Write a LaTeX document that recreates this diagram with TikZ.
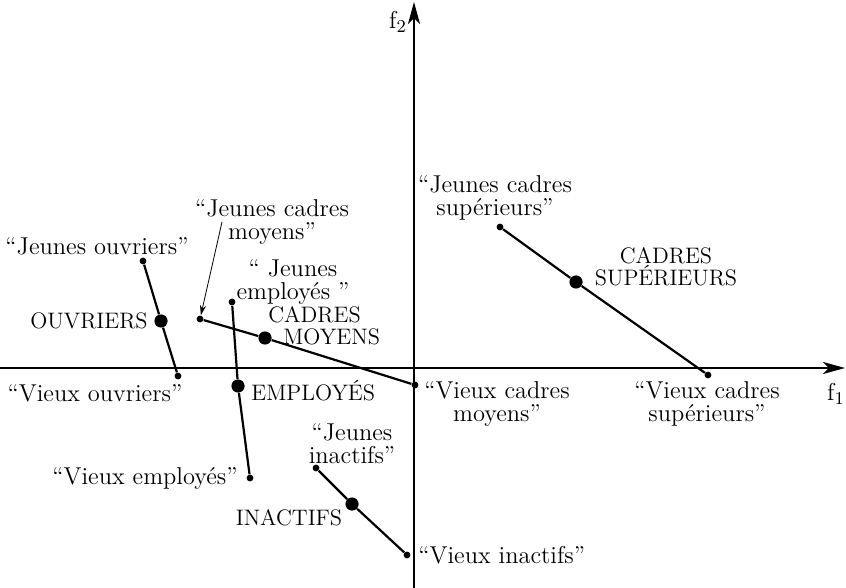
\documentclass[tikz,border=0pt]{standalone}
\usepackage{tikz}
\usetikzlibrary{arrows.meta,positioning}
\begin{document}
\begin{tikzpicture}[x=0.5pt,y=-0.5pt,
    small/.style={circle, fill=black, inner sep=0pt, minimum size=3.4pt},
    big/.style={circle, fill=black, inner sep=0pt, minimum size=6.6pt},
    lab/.style={align=center, inner sep=0pt, font=\fontsize{12.2}{11.5}\selectfont},
    grp/.style={align=center, inner sep=0pt, font=\fontsize{11.2}{11}\selectfont},
    seg/.style={line width=1.1pt},
    axe/.style={line width=0.8pt, -{Stealth[length=11pt,width=6pt,inset=3pt]}}
]
    \useasboundingbox (0,0) rectangle (846,588);

    % axes
    \coordinate (xs) at (0,368);
    \coordinate (xe) at (845,368);
    \coordinate (ys) at (414,588);
    \coordinate (ye) at (414,2);
    \draw[axe] (xs) -- (xe);
    \draw[axe] (ys) -- (ye);
    \node[lab] (f2) at (398,22) {f$_2$};
    \node[lab] (f1) at (836,394) {f$_1$};

    % ouvriers
    \node[small] (jo) at (143,261) {};
    \node[big]   (mo) at (161,321) {};
    \node[small] (vo) at (178,376) {};
    \draw[seg] (jo) -- (mo) -- (vo);
    \node[lab] at (97,246) {``Jeunes ouvriers''};
    \node[grp, anchor=east] at (148,321) {OUVRIERS};
    \node[lab] at (95,393) {``Vieux ouvriers''};

    % cadres moyens
    \node[small] (jcm) at (200,319) {};
    \node[big]   (mcm) at (265,338) {};
    \node[small] (vcm) at (415,385) {};
    \draw[seg] (jcm) -- (mcm) -- (vcm);
    \node[lab] (ljcm) at (272,222) {``Jeunes cadres\\moyens''};
    \draw[-{Stealth[length=5pt,width=3pt]}, thin] (222,222) -- (jcm);
    \node[grp, align=left, anchor=west] at (268,326) {CADRES\\\hspace{7.5pt}MOYENS};
    \node[lab] at (497,404) {``Vieux cadres\\moyens''};

    % employes
    \node[small] (je) at (232,302) {};
    \node[big]   (me) at (238,386) {};
    \node[small] (ve) at (250,478) {};
    \draw[seg] (je) -- (me) -- (ve);
    \node[lab] at (293,282) {`` Jeunes\\employ\'es ''};
    \node[grp, anchor=west] at (251,391) {EMPLOY\'ES};
    \node[lab] at (145,478) {``Vieux employ\'es''};

    % inactifs
    \node[small] (ji) at (316,468) {};
    \node[big]   (mi) at (352,504) {};
    \node[small] (vi) at (407,555) {};
    \draw[seg] (ji) -- (mi) -- (vi);
    \node[lab] at (352,444) {``Jeunes\\inactifs''};
    \node[grp] at (289,518) {INACTIFS};
    \node[lab, anchor=west] at (418,555) {``Vieux inactifs''};

    % cadres superieurs
    \node[small] (jcs) at (500,227) {};
    \node[big]   (mcs) at (576,282) {};
    \node[small] (vcs) at (708,375) {};
    \draw[seg] (jcs) -- (mcs) -- (vcs);
    \node[lab] at (495,198) {``Jeunes cadres\\sup\'erieurs''};
    \node[grp] at (666,267) {CADRES\\SUP\'ERIEURS};
    \node[lab] at (707,404) {``Vieux cadres\\sup\'erieurs''};
\end{tikzpicture}
\end{document}
